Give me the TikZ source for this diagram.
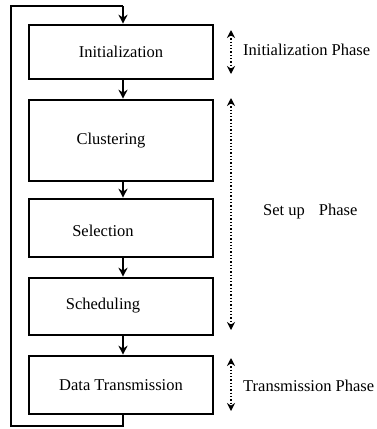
\documentclass[tikz,border=0pt]{standalone}
\usepackage{fontspec}
\setmainfont{Liberation Serif}
\usetikzlibrary{arrows.meta}
\begin{document}
\begin{tikzpicture}[x=1pt,y=-1pt,
  box/.style={draw,line width=2.6pt,rectangle,minimum width=184pt,inner sep=0pt},
  lbl/.style={font=\fontsize{16.5}{19}\selectfont,inner sep=0pt},
  flow/.style={line width=1.8pt,-{Stealth[length=9pt,width=9pt]}},
  line/.style={line width=1.8pt},
  phase/.style={line width=1.3pt,dotted,{Stealth[length=8pt,width=8pt]}-{Stealth[length=8pt,width=8pt]}}]
\useasboundingbox (0,0) rectangle (377,429);
% boxes
\node[box,minimum height=54pt] (b1) at (121,52) {};
\node[box,minimum height=81pt] (b2) at (121,140.5) {};
\node[box,minimum height=58pt] (b3) at (121,228) {};
\node[box,minimum height=57pt] (b4) at (121,306.5) {};
\node[box,minimum height=58pt] (b5) at (121,385) {};
% box texts
\node[lbl] (t1) at (121,52) {Initialization};
\node[lbl] (t2) at (111,141) {Clustering};
\node[lbl] (t3) at (103,231) {Selection};
\node[lbl] (t4) at (103,306) {Scheduling};
\node[lbl] (t5) at (121,385) {Data Transmission};
% flow arrows
\coordinate (ax) at (123,0);
\draw[flow] (b1.south -| ax) -- (b2.north -| ax);
\draw[flow] (b2.south -| ax) -- (b3.north -| ax);
\draw[flow] (b3.south -| ax) -- (b4.north -| ax);
\draw[flow] (b4.south -| ax) -- (b5.north -| ax);
% loop back
\coordinate (l1) at (123,426);
\coordinate (l2) at (11,426);
\coordinate (l3) at (11,6);
\coordinate (l4) at (123,6);
\draw[line] (b5.south -| ax) -- (l1) -- (l2) -- (l3) -- (l4);
\draw[flow] (l4) -- (b1.north -| ax);
% phase arrows
\coordinate (p1a) at (231,30);
\coordinate (p1b) at (231,74);
\coordinate (p2a) at (231,98);
\coordinate (p2b) at (231,330);
\coordinate (p3a) at (231,358);
\coordinate (p3b) at (231,411);
\draw[phase] (p1a) -- (p1b);
\draw[phase] (p2a) -- (p2b);
\draw[phase] (p3a) -- (p3b);
% phase labels
\node[lbl,anchor=west] (ph1) at (243,50) {Initialization Phase};
\node[lbl,anchor=west] (ph2) at (263,212) {Set up\hspace{14pt}Phase};
\node[lbl,anchor=west] (ph3) at (243,386) {Transmission Phase};
\end{tikzpicture}
\end{document}
